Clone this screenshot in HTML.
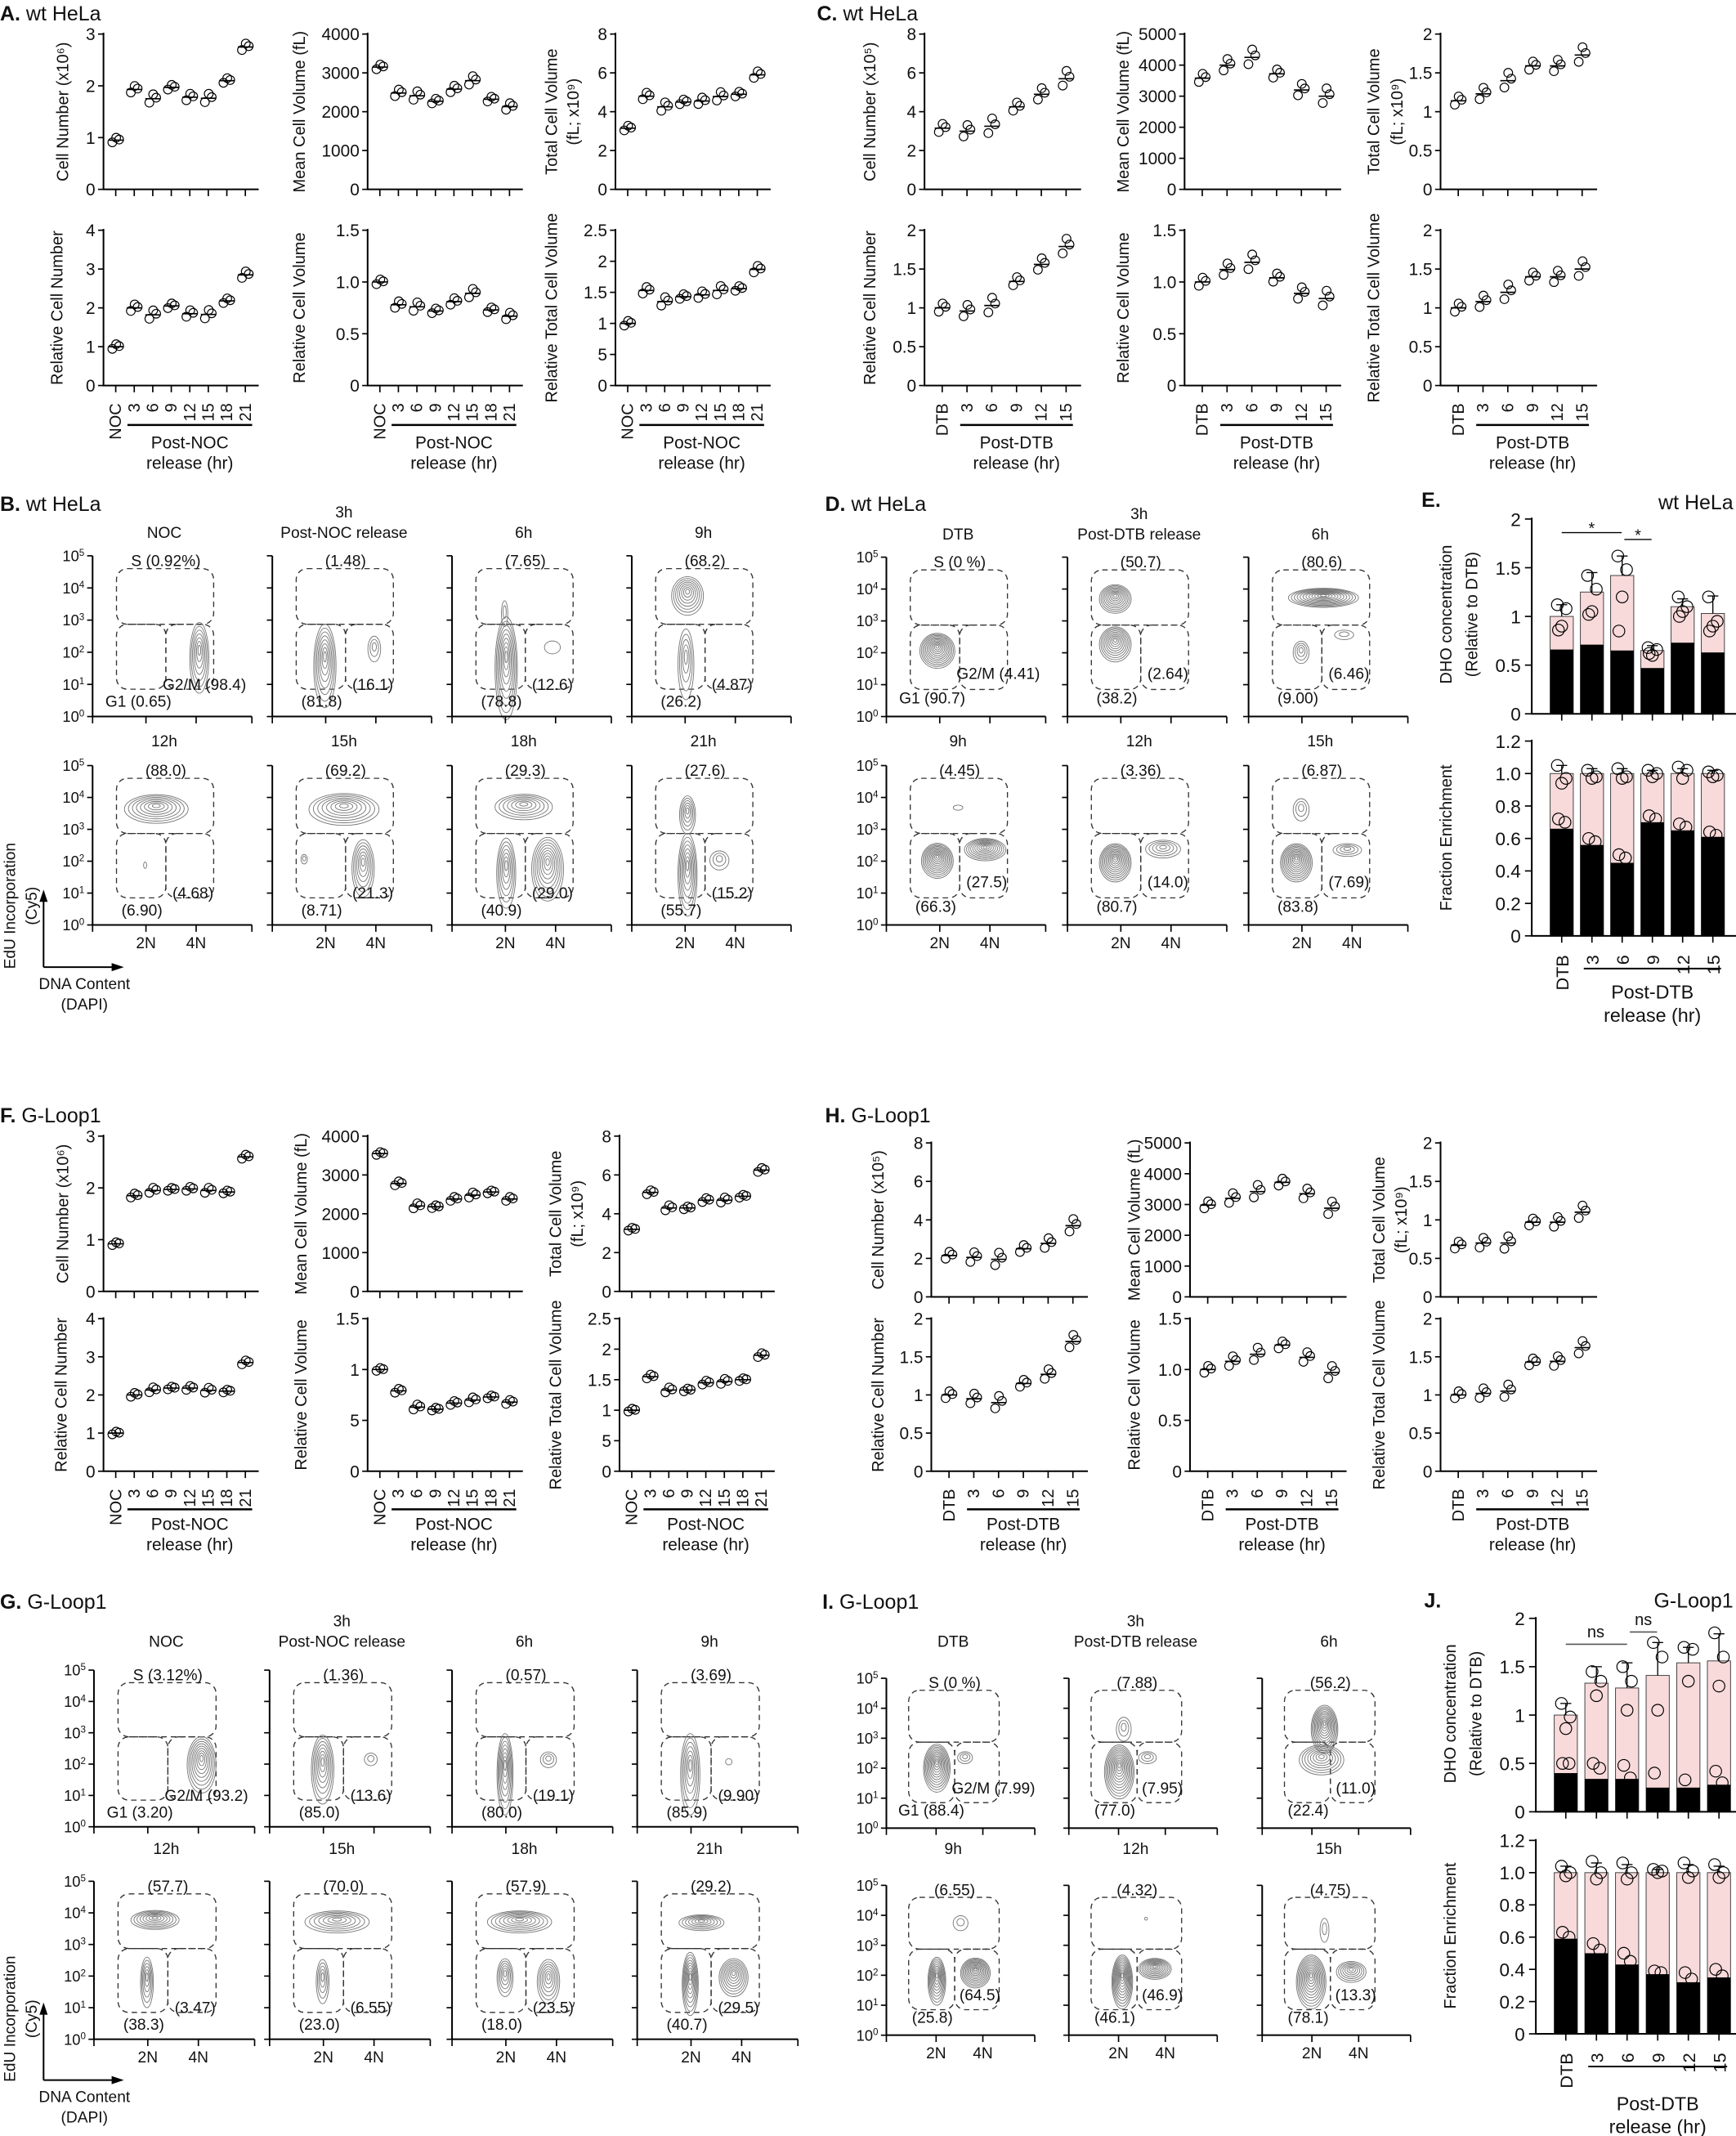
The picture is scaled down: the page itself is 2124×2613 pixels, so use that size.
<!DOCTYPE html>
<html><head><meta charset="utf-8"><style>
html,body{margin:0;padding:0;background:#fff}
svg{display:block}
text{font-family:"Liberation Sans",Arial,sans-serif;fill:#111}
</style></head><body>
<svg id="s" width="2124" height="2613" viewBox="0 0 1275 1568" preserveAspectRatio="none" xmlns="http://www.w3.org/2000/svg"></svg>
<script>
let h='';
function T(x,y,s,fs,a,rot,extra){h+=`<text x="${x}" y="${y}" font-size="${fs||11}" text-anchor="${a||'start'}"${rot?` transform="rotate(-90 ${x} ${y})"`:''}${extra||''}>${s}</text>`;}
function L(x1,y1,x2,y2,w,c,da){h+=`<line x1="${x1}" y1="${y1}" x2="${x2}" y2="${y2}" stroke="${c||'#000'}" stroke-width="${w||1}"${da?` stroke-dasharray="${da}"`:''}/>`;}
function C(x,y,r,w){h+=`<circle cx="${x}" cy="${y}" r="${r}" fill="none" stroke="#000" stroke-width="${w||0.7}"/>`;}

function scat(ax,top,zero,max,tk,tl,vals,first,step,end,sp){
 L(ax,top-1,ax,zero,1.2);L(ax-0.6,zero,end,zero,1.2);
 const Y=u=>zero-u/max*(zero-top);
 tk.forEach((t,i)=>{const y=Y(t);L(ax-4,y,ax,y,1);T(ax-6,y+4.5,tl?tl[i]:t,12.5,'end');});
 vals.forEach((v,i)=>{const x=first+i*step;L(x,zero,x,zero+5,1);const d=max*sp*(1+(i%3)*0.4);
  [[-2.5,-0.7],[2.5,0.2],[0.3,0.8]].forEach(p=>C(x+p[0],Y(v+p[1]*d),3.2,0.7));L(x-5.5,Y(v),x+5.5,Y(v),1);});
}
function ylab(x,y,s){T(x,y,s,12,'middle',1);}
function xl(first,step,labs,zero,post,pb,lo){
 labs.forEach((s,i)=>T(first+i*step+4,zero+13,s,12,'end',1));
 const x1=first+step-5,x2=first+(labs.length-1)*step+5;L(x1,zero+lo,x2,zero+lo,1.5);
 T((x1+x2)/2,pb,post,12.5,'middle');T((x1+x2)/2,pb+15,'release (hr)',12.5,'middle');}

function trio(axes,r1,r2,data,first,step,len,sp,labs,post,pb,yl,lo){
 data.forEach((d,k)=>{const ax=axes[k%3];const r=k<3?r1:r2;
  scat(ax,r[0],r[1],d.m,d.t,d.l,d.v,ax+first,step,ax+len,sp);
  const cy=(r[0]+r[1])/2;
  if(d.y2){ylab(yl[k][0],cy,d.y);ylab(yl[k][1],cy,d.y2);} else ylab(yl[k][0],cy,d.y);
  if(k>=3) xl(ax+first,step,labs,r[1],post,pb,lo);
 });}
const NOC=['NOC','3','6','9','12','15','18','21'],DTB=['DTB','3','6','9','12','15'];
T(0,15,'<tspan font-weight="bold">A.</tspan> wt HeLa',15);
trio([76,270,452],[25,139],[169,283],[
 {m:3,t:[0,1,2,3],v:[.95,1.93,1.75,1.97,1.78,1.76,2.1,2.75],y:'Cell Number (x10⁶)'},
 {m:4000,t:[0,1000,2000,3000,4000],v:[3150,2480,2410,2270,2580,2800,2320,2130],y:'Mean Cell Volume (fL)'},
 {m:8,t:[0,2,4,6,8],v:[3.15,4.8,4.25,4.5,4.55,4.78,4.9,5.9],y:'Total Cell Volume',y2:'(fL; x10⁹)'},
 {m:4,t:[0,1,2,3,4],v:[1,2,1.82,2.05,1.85,1.83,2.18,2.85],y:'Relative Cell Number'},
 {m:1.5,t:[0,.5,1,1.5],l:['0','0.5','1.0','1.5'],v:[1.0,.78,.76,.72,.81,.89,.73,.67],y:'Relative Cell Volume'},
 {m:2.5,t:[0,.5,1,1.5,2,2.5],l:['0','5','1','1.5','2','2.5'],v:[1,1.53,1.35,1.43,1.46,1.53,1.56,1.87],y:'Relative Total Cell Volume'}
],9,13.6,114,0.02,NOC,'Post-NOC',329,[[50],[224],[409,425],[46],[224],[409]],29);

T(600,15,'<tspan font-weight="bold">C.</tspan> wt HeLa',15);
trio([679,870,1058],[25,139],[169,283],[
 {m:8,t:[0,2,4,6,8],v:[3.15,3.0,3.25,4.25,4.9,5.7],y:'Cell Number (x10⁵)'},
 {m:5000,t:[0,1000,2000,3000,4000,5000],v:[3580,4000,4250,3720,3200,3000],y:'Mean Cell Volume (fL)'},
 {m:2,t:[0,.5,1,1.5,2],v:[1.14,1.23,1.4,1.59,1.59,1.73],y:'Total Cell Volume',y2:'(fL; x10⁹)'},
 {m:2,t:[0,.5,1,1.5,2],v:[1,.96,1.03,1.34,1.56,1.79],y:'Relative Cell Number'},
 {m:1.5,t:[0,.5,1,1.5],l:['0','0.5','1.0','1.5'],v:[1,1.12,1.19,1.04,.89,.84],y:'Relative Cell Volume'},
 {m:2,t:[0,.5,1,1.5,2],v:[1,1.08,1.2,1.4,1.4,1.5],y:'Relative Total Cell Volume'}
],13,18.2,115,0.035,DTB,'Post-DTB',329,[[643],[829],[1013,1030],[643],[829],[1013]],29);

T(0,824,'<tspan font-weight="bold">F.</tspan> G-Loop1',15);
trio([76,270,455],[834,948],[968,1080],[
 {m:3,t:[0,1,2,3],v:[.92,1.85,1.95,1.97,1.98,1.95,1.92,2.6],y:'Cell Number (x10⁶)'},
 {m:4000,t:[0,1000,2000,3000,4000],v:[3550,2780,2200,2180,2380,2480,2560,2380],y:'Mean Cell Volume (fL)'},
 {m:8,t:[0,2,4,6,8],v:[3.2,5.1,4.3,4.3,4.7,4.7,4.9,6.25],y:'Total Cell Volume',y2:'(fL; x10⁹)'},
 {m:4,t:[0,1,2,3,4],v:[1,2,2.13,2.18,2.18,2.12,2.1,2.85],y:'Relative Cell Number'},
 {m:1.5,t:[0,.5,1,1.5],l:['0','5','1','1.5'],v:[1,.79,.63,.61,.67,.7,.73,.68],y:'Relative Cell Volume'},
 {m:2.5,t:[0,.5,1,1.5,2,2.5],l:['0','5','1','1.5','2','2.5'],v:[1,1.55,1.33,1.33,1.45,1.47,1.5,1.9],y:'Relative Total Cell Volume'}
],9,13.6,114,0.012,NOC,'Post-NOC',1123,[[50],[225],[412,428],[49],[225],[412]],28);

T(606,824,'<tspan font-weight="bold">H.</tspan> G-Loop1',15);
trio([684,874,1058],[839,952],[968,1080],[
 {m:8,t:[0,2,4,6,8],v:[2.15,2.05,1.95,2.5,2.78,3.7],y:'Cell Number (x10⁵)'},
 {m:5000,t:[0,1000,2000,3000,4000,5000],v:[2980,3200,3420,3720,3350,2880],y:'Mean Cell Volume (fL)'},
 {m:2,t:[0,.5,1,1.5,2],v:[.67,.7,.7,.97,.97,1.1],y:'Total Cell Volume',y2:'(fL; x10⁹)'},
 {m:2,t:[0,.5,1,1.5,2],v:[1,.95,.9,1.15,1.27,1.7],y:'Relative Cell Number'},
 {m:1.5,t:[0,.5,1,1.5],l:['0','0.5','1.0','1.5'],v:[1,1.08,1.15,1.24,1.12,.97],y:'Relative Cell Volume'},
 {m:2,t:[0,.5,1,1.5,2],v:[1,1.02,1.05,1.43,1.44,1.62],y:'Relative Total Cell Volume'}
],13,18.2,115,0.03,DTB,'Post-DTB',1123,[[649],[837],[1017,1033],[649],[837],[1017]],28);

function flow(ax,top,bot,w,titles,toff,labs,blobs,showY,showX,dG2,dG1){
 const d=(bot-top)/5,Y=k=>bot-k*d,X=f=>ax+f*w;
 const g=(f1,f2,k1,k2)=>{h+=`<rect x="${X(f1)}" y="${Y(k1)}" width="${X(f2)-X(f1)}" height="${Y(k2)-Y(k1)}" rx="8" fill="none" stroke="#333" stroke-width="0.8" stroke-dasharray="4,3"/>`;};
 g(.15,.76,4.6,2.87);g(.15,.46,2.87,.85);g(.46,.76,2.87,.85);
 blobs.forEach(b=>{const [fx,k,rx,ry,n]=b;for(let j=1;j<=n;j++){const f=j/n;
  h+=`<ellipse cx="${X(fx)}" cy="${Y(k)+ry*d*0.25*f}" rx="${Math.max(rx*w*f,0.8)}" ry="${Math.max(ry*d*f,0.8)}" fill="none" stroke="#777" stroke-width="0.55"/>`;}});
 L(ax,top,ax,bot,1.2);L(ax-0.6,bot,ax+w,bot,1.2);
 for(let k=0;k<=5;k++){L(ax-4,Y(k),ax,Y(k),1);if(showY)T(ax-6,Y(k)+4,`10<tspan dy="-4" font-size="7">${k}</tspan>`,11,'end');}
 [0,.335,.65,1].forEach(f=>L(X(f),bot,X(f),bot+5,1));
 if(showX){T(X(.335),bot+17,'2N',11.5,'middle');T(X(.65),bot+17,'4N',11.5,'middle');}
 const cx=X(.45);
 if(titles.length>1){T(cx,top-toff-15,titles[0],11.5,'middle');T(cx,top-toff,titles[1],11.5,'middle');}
 else T(cx,top-toff,titles[0],11.5,'middle');
 T(X(.46),Y(4.85)+4,labs[0],11.5,'middle');
 if(labs[1].startsWith('G2'))T(X(.44),Y(dG2)+4,labs[1],11.5,'start');else T(X(.63),Y(dG2)+4,labs[1],11.5,'middle');
 if(labs[2].startsWith('G1'))T(X(.08),Y(dG1)+4,labs[2],11.5,'start');else T(X(.31),Y(dG1)+4,labs[2],11.5,'middle');
}
function arrows(y,x){L(x,y,x,y-50,1.2);h+=`<polygon points="${x-3},${y-48} ${x+3},${y-48} ${x},${y-57}" fill="#000"/>`;
 L(x,y,x+52,y,1.2);h+=`<polygon points="${x+50},${y-3} ${x+50},${y+3} ${x+59},${y}" fill="#000"/>`;
 T(7+4,y-45,'EdU Incorporation',11.5,'middle',1);T(23+4,y-45,'(Cy5)',11.5,'middle',1);
 T(x+30,y+16,'DNA Content',11.5,'middle');T(x+30,y+31,'(DAPI)',11.5,'middle');}

T(0,375,'<tspan font-weight="bold">B.</tspan> wt HeLa',15);
const Bc=[68,200,332,464];
const Bd=[
 [['NOC'],['S (0.92%)','G2/M (98.4)','G1 (0.65)'],[[.67,2.1,.06,1.1,7]]],
 [['3h','Post-NOC release'],['(1.48)','(16.1)','(81.8)'],[[.33,1.9,.07,1.3,8],[.64,2.2,.04,.4,3]]],
 [['6h'],['(7.65)','(12.6)','(78.8)'],[[.34,1.9,.07,1.6,9],[.33,3.3,.02,.4,2],[.63,2.2,.05,.2,1]]],
 [['9h'],['(68.2)','(4.87)','(26.2)'],[[.35,3.9,.1,.6,8],[.34,1.9,.05,1.1,5]]],
 [['12h'],['(88.0)','(4.68)','(6.90)'],[[.4,3.75,.2,.45,8],[.33,1.9,.01,.1,1]]],
 [['15h'],['(69.2)','(21.3)','(8.71)'],[[.45,3.75,.22,.5,8],[.57,2.0,.07,.9,7],[.2,2.1,.02,.15,2]]],
 [['18h'],['(29.3)','(29.0)','(40.9)'],[[.45,3.8,.18,.4,7],[.34,1.9,.06,1.1,7],[.6,2.0,.1,1.0,9]]],
 [['21h'],['(27.6)','(15.2)','(55.7)'],[[.35,3.6,.05,.6,6],[.35,1.9,.06,1.3,8],[.55,2.1,.06,.3,3]]]];
Bd.forEach((p,i)=>{const r=i<4?[408,526]:[562,679];flow(Bc[i%4],r[0],r[1],117,p[0],i<4?13:14,p[1],p[2],i%4==0,i>=4,1.0,.47);});
arrows(710,32);

T(606,375,'<tspan font-weight="bold">D.</tspan> wt HeLa',15);
const Dc=[651,784,917];
const Dd=[
 [['DTB'],['S (0 %)','G2/M (4.41)','G1 (90.7)'],[[.32,2.2,.11,.55,12]]],
 [['3h','Post-DTB release'],['(50.7)','(2.64)','(38.2)'],[[.3,3.8,.1,.45,10],[.3,2.4,.1,.55,10]]],
 [['6h'],['(80.6)','(6.46)','(9.00)'],[[.47,3.8,.22,.3,12],[.33,2.1,.05,.35,4],[.6,2.6,.06,.15,2]]],
 [['9h'],['(4.45)','(27.5)','(66.3)'],[[.32,2.15,.1,.55,12],[.62,2.45,.13,.35,10],[.45,3.7,.03,.08,1]]],
 [['12h'],['(3.36)','(14.0)','(80.7)'],[[.3,2.1,.1,.6,12],[.6,2.45,.11,.28,5]]],
 [['15h'],['(6.87)','(7.69)','(83.8)'],[[.3,2.1,.1,.6,12],[.62,2.4,.09,.2,4],[.33,3.7,.05,.35,3]]]];
Dd.forEach((p,i)=>{const r=i<3?[409,526]:[562,679];flow(Dc[i%3],r[0],r[1],117,p[0],i<3?13:14,p[1],p[2],i%3==0,i>=3,1.35,.58);});

T(0,1181,'<tspan font-weight="bold">G.</tspan> G-Loop1',15);
const Gd=[
 [['NOC'],['S (3.12%)','G2/M (93.2)','G1 (3.20)'],[[.67,2.2,.09,.9,9]]],
 [['3h','Post-NOC release'],['(1.36)','(13.6)','(85.0)'],[[.33,2.1,.07,1.1,8],[.63,2.2,.04,.2,2]]],
 [['6h'],['(0.57)','(19.1)','(80.0)'],[[.33,2.0,.05,1.3,8],[.6,2.2,.05,.25,3]]],
 [['9h'],['(3.69)','(9.90)','(85.9)'],[[.33,2.0,.06,1.3,7],[.57,2.1,.02,.1,1]]],
 [['12h'],['(57.7)','(3.47)','(38.3)'],[[.38,3.85,.15,.3,8],[.33,2.0,.04,.8,6]]],
 [['15h'],['(70.0)','(6.55)','(23.0)'],[[.42,3.8,.2,.35,7],[.33,2.0,.04,.7,5]]],
 [['18h'],['(57.9)','(23.5)','(18.0)'],[[.42,3.8,.2,.35,8],[.33,2.1,.05,.6,6],[.6,2.0,.07,.7,7]]],
 [['21h'],['(29.2)','(29.5)','(40.7)'],[[.4,3.75,.14,.25,7],[.33,2.0,.05,1.0,9],[.6,2.1,.09,.6,9]]]];
const Gc=[69,198,332,468];
Gd.forEach((p,i)=>{const r=i<4?[1226,1341]:[1381,1497];flow(Gc[i%4],r[0],r[1],118,p[0],i<4?17:20,p[1],p[2],i%4==0,i>=4,1.0,.47);});
arrows(1527,32);

T(604,1181,'<tspan font-weight="bold">I.</tspan>  G-Loop1',15);
const Id=[
 [['DTB'],['S (0 %)','G2/M (7.99)','G1 (88.4)'],[[.34,2.2,.09,.8,12],[.53,2.4,.05,.2,3]]],
 [['3h','Post-DTB release'],['(7.88)','(7.95)','(77.0)'],[[.34,2.1,.1,.9,12],[.37,3.4,.05,.4,3],[.53,2.4,.06,.2,3]]],
 [['6h'],['(56.2)','(11.0)','(22.4)'],[[.42,3.5,.09,.8,12],[.4,2.4,.15,.5,8]]],
 [['9h'],['(6.55)','(64.5)','(25.8)'],[[.34,2.0,.06,.8,10],[.6,2.2,.1,.5,12],[.5,3.8,.05,.25,2]]],
 [['12h'],['(4.32)','(46.9)','(46.1)'],[[.36,2.0,.07,.9,12],[.58,2.3,.11,.35,10],[.52,3.9,.01,.05,1]]],
 [['15h'],['(4.75)','(13.3)','(78.1)'],[[.33,2.0,.1,.9,12],[.6,2.2,.1,.35,7],[.42,3.6,.03,.4,2]]]];
const Ic=[651,785,927];
Id.forEach((p,i)=>{const r=i<3?[1232,1342]:[1384,1494];flow(Ic[i%3],r[0],r[1],109,p[0],23,p[1],p[2],i%3==0,i>=3,1.34,.6);});

function bars(ax,top,zero,max,tk,tl,x0,dx,tops,blk,err,pts){
 const Y=u=>zero-u/max*(zero-top);
 tk.forEach((t,i)=>{const y=Y(t);L(ax-5,y,ax,y,1);T(ax-8,y+5,tl[i],13.5,'end');});
 tops.forEach((tv,i)=>{const x=x0+i*dx;
  h+=`<rect x="${x-8.5}" y="${Y(tv)}" width="17" height="${zero-Y(tv)}" fill="#f9dada" stroke="#444" stroke-width="0.6"/>`;
  h+=`<rect x="${x-8.5}" y="${Y(blk[i])}" width="17" height="${zero-Y(blk[i])}" fill="#000"/>`;
  if(err[i]){L(x,Y(tv),x,Y(tv+err[i]),0.8);L(x-4,Y(tv+err[i]),x+4,Y(tv+err[i]),0.8);}
  pts[i].forEach((p,j)=>C(x+[-2,2,0,-1.5,1.5][j%5]*1.6,Y(p),4.3,0.7));
  L(x,zero,x,zero+5,1);});
 L(ax,top-1,ax,zero,1.2);L(ax-0.6,zero,1275,zero,1.2);
}
function barX(x0,dx,zero,pb){DTB.forEach((s,i)=>T(x0+i*dx+5,zero+14,s,13,'end',1));
 const x1=x0+dx-6,x2=x0+5*dx+6;L(x1,zero+24,x2,zero+24,1.2);T((x1+x2)/2,pb,'Post-DTB',14,'middle');T((x1+x2)/2,pb+17,'release (hr)',14,'middle');}
T(1044,372,'E.',15,'start',0,' font-weight="bold"');T(1273,374,'wt HeLa',15,'end');
bars(1125,381,524,2,[0,.5,1,1.5,2],['0','0.5','1','1.5','2'],1147,22.2,
 [1.0,1.25,1.42,0.65,1.1,1.03],[.66,.71,.65,.47,.73,.63],[.12,.2,.2,.05,.08,.18],
 [[1.12,1.08,.9,.86],[1.42,1.28,1.05,1.02],[1.62,1.48,1.2,.85],[.68,.66,.6,.62],[1.2,1.1,1.05,1.0],[1.2,.95,.9,.85]]);
L(1147,391,1191,391,0.8);T(1169,392,'*',12,'middle');L(1193,396,1213,396,0.8);T(1203,397,'*',12,'middle');
ylab(1066,451,'DHO concentration');ylab(1085,451,'(Relative to DTB)');
bars(1125,544,687,1.2,[0,.2,.4,.6,.8,1,1.2],['0','0.2','0.4','0.6','0.8','1.0','1.2'],1147,22.2,
 [1,1,1,1,1,1],[.66,.56,.45,.7,.65,.61],[.05,.03,.03,.02,.03,.02],
 [[1.05,.97,.94,.72,.7],[1.02,.98,.97,.6,.58],[1.03,.98,.97,.5,.48],[1.02,1.0,.98,.74,.72],[1.04,1.02,.97,.69,.67],[1.01,.99,.98,.64,.62]]);
ylab(1066,615,'Fraction Enrichment');
barX(1147,22.2,687,733);
T(1046,1180,'J.',15,'start',0,' font-weight="bold"');T(1273,1180,'G-Loop1',15,'end');
bars(1128,1188,1330,2,[0,.5,1,1.5,2],['0','0.5','1','1.5','2'],1150,22.5,
 [1.0,1.33,1.28,1.41,1.54,1.56],[.4,.34,.34,.25,.25,.28],[.12,.17,.26,.34,.16,.28],
 [[1.12,.98,.86,.5,.5],[1.45,1.35,1.2,.5,.45],[1.5,1.35,1.05,.48,.35],[1.75,1.6,1.05,.4],[1.7,1.68,1.35,.33],[1.85,1.6,1.3,.42,.3]]);
L(1150,1207,1195,1207,1,'#555');T(1172,1202,'ns',12,'middle');L(1197,1198,1217,1198,1,'#555');T(1207,1193,'ns',12,'middle');
ylab(1069,1258,'DHO concentration');ylab(1088,1258,'(Relative to DTB)');
bars(1128,1351,1493,1.2,[0,.2,.4,.6,.8,1,1.2],['0','0.2','0.4','0.6','0.8','1.0','1.2'],1150,22.5,
 [1,1,1,1,1,1],[.59,.5,.43,.37,.32,.35],[.04,.06,.05,.02,.05,.04],
 [[1.04,1.0,.98,.63,.6],[1.07,1.0,.96,.56,.52],[1.06,1.0,.96,.5,.45],[1.02,1.01,1.0,.39,.38],[1.06,1.01,.97,.38,.34],[1.05,1.0,.97,.4,.36]]);
ylab(1069,1421,'Fraction Enrichment');
barX(1150,22.5,1493,1549);

document.getElementById('s').innerHTML=h;
</script>
</body></html>
